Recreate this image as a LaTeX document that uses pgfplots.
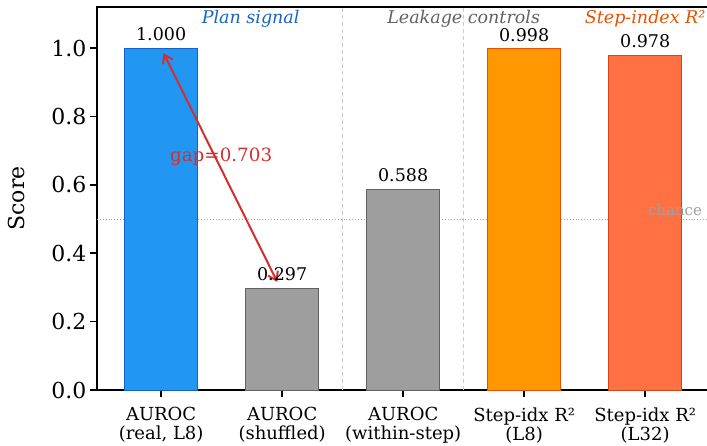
\documentclass[border=0pt]{standalone}
\usepackage{pgfplots}
\pgfplotsset{compat=1.18}
\usetikzlibrary{arrows.meta}
\usepackage{fontspec}
\setmainfont{DejaVu Serif}

\definecolor{cblue}{HTML}{2196F3}
\definecolor{cblueedge}{HTML}{1565C0}
\definecolor{cgray}{HTML}{9E9E9E}
\definecolor{cgrayedge}{HTML}{616161}
\definecolor{corange}{HTML}{FF9800}
\definecolor{corangeedge}{HTML}{E65100}
\definecolor{cdeep}{HTML}{FF7043}
\definecolor{cdeepedge}{HTML}{D84315}
\definecolor{cred}{HTML}{D32F2F}
\definecolor{sepgray}{HTML}{CCCCCC}
\definecolor{chancegray}{HTML}{A0A0A0}

\begin{document}
\begin{tikzpicture}
\begin{axis}[
  at={(97pt,55pt)}, anchor=south west,
  scale only axis, width=612.3pt, height=383pt,
  xmin=-0.53, xmax=4.53, ymin=0, ymax=1.12,
  clip=false,
  axis line style={line width=1.6pt, black},
  tick align=outside, major tick length=7pt,
  tick style={line width=1.5pt, black},
  xtick pos=bottom, ytick pos=left,
  xtick={0,1,2,3,4},
  xticklabels={{AUROC\\(real, L8)},{AUROC\\(shuffled)},{AUROC\\(within-step)},{Step-idx R²\\(L8)},{Step-idx R²\\(L32)}},
  xticklabel style={align=center, font=\fontsize{18}{19}\selectfont, yshift=-7pt},
  ytick={0,0.2,0.4,0.6,0.8,1.0},
  yticklabel style={font=\fontsize{22}{26}\selectfont, /pgf/number format/.cd, fixed, fixed zerofill, precision=1},
  /pgf/number format/assume math mode=true,
  ylabel={Score},
  every axis y label/.style={at={(axis description cs:-0.1307,0.5)}, rotate=90, anchor=center, font=\fontsize{22}{26}\selectfont},
  ybar, bar width=0.6,
  point meta=y,
  nodes near coords={\pgfmathprintnumber[fixed,fixed zerofill,precision=3]{\pgfplotspointmeta}},
  every node near coord/.append style={font=\fontsize{17.5}{20}\selectfont, black, inner sep=0pt, yshift=7pt},
]
% reference lines behind the bars
\addplot[sharp plot, no marks, draw=chancegray, line width=0.9pt, dotted, nodes near coords={}, forget plot]
  coordinates {(-0.53,0.5) (4.53,0.5)};
\addplot[sharp plot, no marks, draw=sepgray, line width=1pt, dash pattern=on 4pt off 3pt, nodes near coords={}, forget plot]
  coordinates {(1.5,0) (1.5,1.12)};
\addplot[sharp plot, no marks, draw=sepgray, line width=1pt, dash pattern=on 4pt off 3pt, nodes near coords={}, forget plot]
  coordinates {(2.5,0) (2.5,1.12)};

% bars
\addplot[fill=cblue, draw=cblueedge, line width=0.8pt, bar shift=0] coordinates {(0,1.000)};
\addplot[fill=cgray, draw=cgrayedge, line width=0.8pt, bar shift=0] coordinates {(1,0.297)};
\addplot[fill=cgray, draw=cgrayedge, line width=0.8pt, bar shift=0] coordinates {(2,0.588)};
\addplot[fill=corange, draw=corangeedge, line width=0.8pt, bar shift=0] coordinates {(3,0.998)};
\addplot[fill=cdeep, draw=cdeepedge, line width=0.8pt, bar shift=0] coordinates {(4,0.978)};

% group headings
\node[anchor=base, text=cblueedge, font=\fontsize{17.5}{20}\selectfont\itshape] at (axis cs:0.74,1.073) {Plan signal};
\node[anchor=base, text=cgrayedge, font=\fontsize{17.5}{20}\selectfont\itshape] at (axis cs:2.5,1.073) {Leakage controls};
\node[anchor=base, text=corangeedge, font=\fontsize{17.5}{20}\selectfont\itshape] at (axis cs:4.0,1.073) {Step-index R²};

% chance label
\node[anchor=base east, text=chancegray, font=\fontsize{15}{18}\selectfont, inner sep=0pt] at (axis cs:4.471,0.509) {chance};

% gap annotation
\draw[cred, line width=2pt, {Straight Barb[length=8pt,width=11pt]}-{Straight Barb[length=8pt,width=11pt]}]
  (axis cs:0.02,0.985) -- (axis cs:0.96,0.316);
\node[anchor=base, text=cred, font=\fontsize{18.3}{20}\selectfont, inner sep=0pt] at (axis cs:0.496,0.667) {gap=0.703};
\end{axis}
\pgfresetboundingbox
\useasboundingbox (0,0) rectangle (707pt,445pt);
\end{tikzpicture}
\end{document}
